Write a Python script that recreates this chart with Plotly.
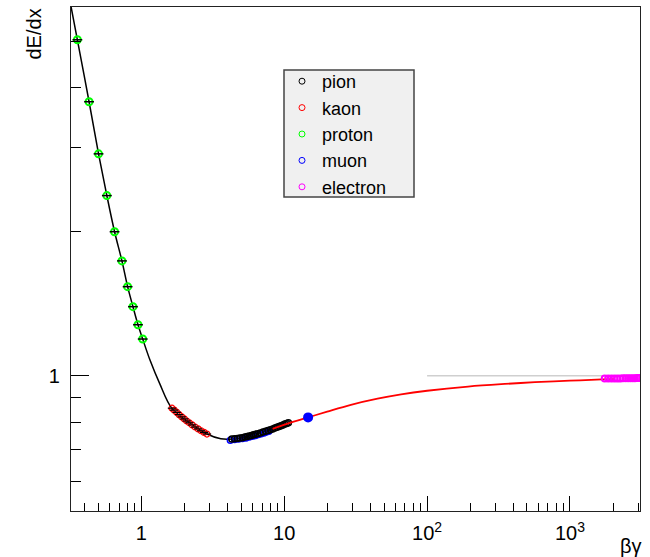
import plotly.graph_objects as go

# ---------------- data ----------------
proton_bg = [0.357, 0.431, 0.502, 0.574, 0.650, 0.732, 0.802, 0.874, 0.948, 1.023]
proton_dedx = [5.04, 3.74, 2.91, 2.38, 2.00, 1.738, 1.535, 1.394, 1.278, 1.193]

kaon_bg = [1.64, 1.70, 1.77, 1.84, 1.92, 2.00, 2.08, 2.17, 2.27, 2.38, 2.50, 2.62, 2.75, 2.88]
kaon_dedx = [0.855, 0.847, 0.838, 0.829, 0.820, 0.812, 0.804, 0.797, 0.789, 0.781,
             0.774, 0.767, 0.761, 0.755]

pion_bg = [4.3, 4.5, 4.7, 4.9, 5.1, 5.3, 5.5, 5.7, 5.9, 6.1, 6.3, 6.5, 6.8, 7.1, 7.4,
           7.7, 8.0, 8.3, 8.6, 8.9, 9.2, 9.5, 9.8, 10.1, 10.4, 10.7]
pion_dedx = [0.737, 0.738, 0.739, 0.741, 0.742, 0.744, 0.746, 0.748, 0.750, 0.752,
             0.754, 0.756, 0.759, 0.762, 0.765, 0.768, 0.771, 0.774, 0.777, 0.780,
             0.783, 0.786, 0.789, 0.792, 0.794, 0.797]

muon_bg = [4.2, 4.5, 4.8, 5.1, 5.4, 5.7, 6.0, 6.3, 6.6, 6.9, 7.2, 7.5, 7.8]
muon_dedx = [0.733, 0.735, 0.737, 0.739, 0.741, 0.744, 0.747, 0.750, 0.753, 0.756,
             0.759, 0.762, 0.765]
muon_cluster_bg = [14.7]
muon_cluster_dedx = [0.818]

electron_bg = [1750, 1850, 1950, 2050, 2150, 2250, 2350, 2450, 2550, 2650, 2750,
               2850, 2950, 3050]
electron_dedx = [0.986, 0.986, 0.987, 0.987, 0.987, 0.987, 0.988, 0.988, 0.988,
                 0.988, 0.988, 0.988, 0.989, 0.989]

# fitted curves
curve_low_bg = [0.32, 0.357, 0.431, 0.502, 0.574, 0.650, 0.732, 0.802, 0.874, 0.948,
                1.023, 1.15, 1.35, 1.635, 2.2, 2.88, 3.6, 4.3, 5.5, 7.0, 8.6, 10.7]
curve_low_dedx = [5.98, 5.04, 3.74, 2.91, 2.38, 2.00, 1.738, 1.535, 1.394, 1.278,
                  1.193, 1.078, 0.96, 0.855, 0.795, 0.755, 0.738, 0.737, 0.746,
                  0.761, 0.777, 0.797]

curve_high_bg = [8.3, 10.7, 14.7, 20, 29.3, 45, 65.8, 100, 193.6, 350, 569, 1000,
                 1673, 2050]
curve_high_dedx = [0.774, 0.795, 0.818, 0.841, 0.869, 0.895, 0.914, 0.930, 0.949,
                   0.961, 0.969, 0.976, 0.982, 0.984]

ref_line_bg = [100, 3050]
ref_line_dedx = [1.0, 1.0]

x_major = [1, 10, 100, 1000]
x_major_text = ["1", "10", "10<sup>2</sup>", "10<sup>3</sup>"]
x_minor = [0.4, 0.5, 0.6, 0.7, 0.8, 0.9, 2, 3, 4, 5, 6, 7, 8, 9,
           20, 30, 40, 50, 60, 70, 80, 90, 200, 300, 400, 500, 600, 700, 800, 900,
           2000, 3000]
y_major = [1]
y_major_text = ["1"]
y_minor = [0.6, 0.7, 0.8, 0.9, 2, 3, 4, 5]

legend_names = ["pion", "kaon", "proton", "muon", "electron"]
legend_colors = ["#000000", "#ff0000", "#00ff00", "#0000ff", "#ff00ff"]

FONT = "Liberation Sans, Arial, sans-serif"

fig = go.Figure()

# curves
fig.add_trace(go.Scatter(x=curve_low_bg, y=curve_low_dedx, mode="lines",
                         line=dict(color="black", width=1.5, shape="spline"),
                         showlegend=False, hoverinfo="skip"))
fig.add_trace(go.Scatter(x=ref_line_bg, y=ref_line_dedx, mode="lines",
                         line=dict(color="#cfcfcf", width=1.5),
                         showlegend=False, hoverinfo="skip"))

# muons (under pions)
fig.add_trace(go.Scatter(x=muon_bg, y=muon_dedx, mode="markers",
                         marker=dict(symbol="circle-open", size=6, color="#0000ff",
                                     line=dict(width=1.5, color="#0000ff")),
                         showlegend=False))
fig.add_trace(go.Scatter(x=pion_bg, y=pion_dedx, mode="markers",
                         marker=dict(symbol="circle-open", size=6, color="#000000",
                                     line=dict(width=1.5, color="#000000")),
                         showlegend=False))
fig.add_trace(go.Scatter(x=kaon_bg, y=kaon_dedx, mode="markers",
                         marker=dict(symbol="circle-open", size=6, color="#ff0000",
                                     line=dict(width=1.2, color="#ff0000")),
                         showlegend=False))
fig.add_trace(go.Scatter(x=kaon_bg, y=kaon_dedx, mode="markers",
                         marker=dict(symbol="line-ew", size=6,
                                     line=dict(width=1.2, color="black")),
                         showlegend=False, hoverinfo="skip"))
fig.add_trace(go.Scatter(x=proton_bg, y=proton_dedx, mode="markers",
                         marker=dict(symbol="circle-open", size=7, color="#00ff00",
                                     line=dict(width=2, color="#00ff00")),
                         showlegend=False))
fig.add_trace(go.Scatter(x=proton_bg, y=proton_dedx, mode="markers",
                         marker=dict(symbol="line-ew", size=7,
                                     line=dict(width=1.5, color="black")),
                         showlegend=False, hoverinfo="skip"))

# high energy curve
fig.add_trace(go.Scatter(x=curve_high_bg, y=curve_high_dedx, mode="lines",
                         line=dict(color="#ff0000", width=1.8, shape="spline"),
                         showlegend=False, hoverinfo="skip"))
fig.add_trace(go.Scatter(x=muon_cluster_bg, y=muon_cluster_dedx, mode="markers",
                         marker=dict(symbol="circle", size=10, color="#0000ff"),
                         showlegend=False))
fig.add_trace(go.Scatter(x=electron_bg, y=electron_dedx, mode="markers",
                         marker=dict(symbol="circle-open", size=6, color="#ff00ff",
                                     line=dict(width=2, color="#ff00ff")),
                         showlegend=False))

# legend entries
for i, (nm, col) in enumerate(zip(legend_names, legend_colors)):
    fig.add_trace(go.Scatter(x=[None], y=[None], mode="markers", name=nm,
                             marker=dict(symbol="circle-open", size=6, color=col,
                                         line=dict(width=1, color=col)),
                             legendrank=i + 1))

W, H = 650, 557
ML, MR, MT, MB = 71, 10, 7, 46
pw, ph = W - ML - MR, H - MT - MB


def px2paper_x(px):
    return (px - ML) / pw


def px2paper_y(py):
    return (H - MB - py) / ph


fig.add_shape(type="rect", xref="paper", yref="paper",
              x0=px2paper_x(284), x1=px2paper_x(414),
              y0=px2paper_y(197), y1=px2paper_y(70),
              fillcolor="#f0f0f0", line=dict(color="#444444", width=1.5),
              layer="above")

fig.update_layout(
    width=W, height=H,
    margin=dict(l=ML, r=MR, t=MT, b=MB),
    paper_bgcolor="white", plot_bgcolor="white",
    font=dict(family=FONT, size=20, color="black"),
    showlegend=True,
    legend=dict(x=px2paper_x(282), y=px2paper_y(63), xanchor="left", yanchor="top",
                bgcolor="rgba(0,0,0,0)", borderwidth=0,
                font=dict(family=FONT, size=18, color="black"),
                tracegroupgap=0),
    xaxis=dict(type="log", range=[-0.492, 3.490],
               tickmode="array", tickvals=x_major, ticktext=x_major_text,
               ticks="inside", ticklen=15, tickwidth=1, tickcolor="black",
               minor=dict(tickmode="array", tickvals=x_minor, ticks="inside",
                          ticklen=8, tickwidth=1, tickcolor="black", showgrid=False),
               showline=True, linecolor="#222222", linewidth=1.2, mirror=True,
               showgrid=False, zeroline=False, ticklabelstandoff=4,
               tickfont=dict(family=FONT, size=20, color="black")),
    yaxis=dict(type="log", range=[-0.283, 0.771],
               tickmode="array", tickvals=y_major, ticktext=y_major_text,
               ticks="inside", ticklen=18, tickwidth=1, tickcolor="black",
               minor=dict(tickmode="array", tickvals=y_minor, ticks="inside",
                          ticklen=10, tickwidth=1, tickcolor="black", showgrid=False),
               showline=True, linecolor="#222222", linewidth=1.2, mirror=True,
               showgrid=False, zeroline=False, ticklabelstandoff=6,
               tickfont=dict(family=FONT, size=20, color="black")),
    annotations=[
        dict(text="dE/dx", xref="paper", yref="paper", x=px2paper_x(33), y=1.0,
             xanchor="center", yanchor="top", textangle=-90, showarrow=False,
             font=dict(family=FONT, size=20, color="black")),
        dict(text="βγ", xref="paper", yref="paper", x=px2paper_x(644),
             y=px2paper_y(546), xanchor="right", yanchor="middle", showarrow=False,
             font=dict(family=FONT, size=20, color="black")),
    ],
)

fig.write_html("out.html")
